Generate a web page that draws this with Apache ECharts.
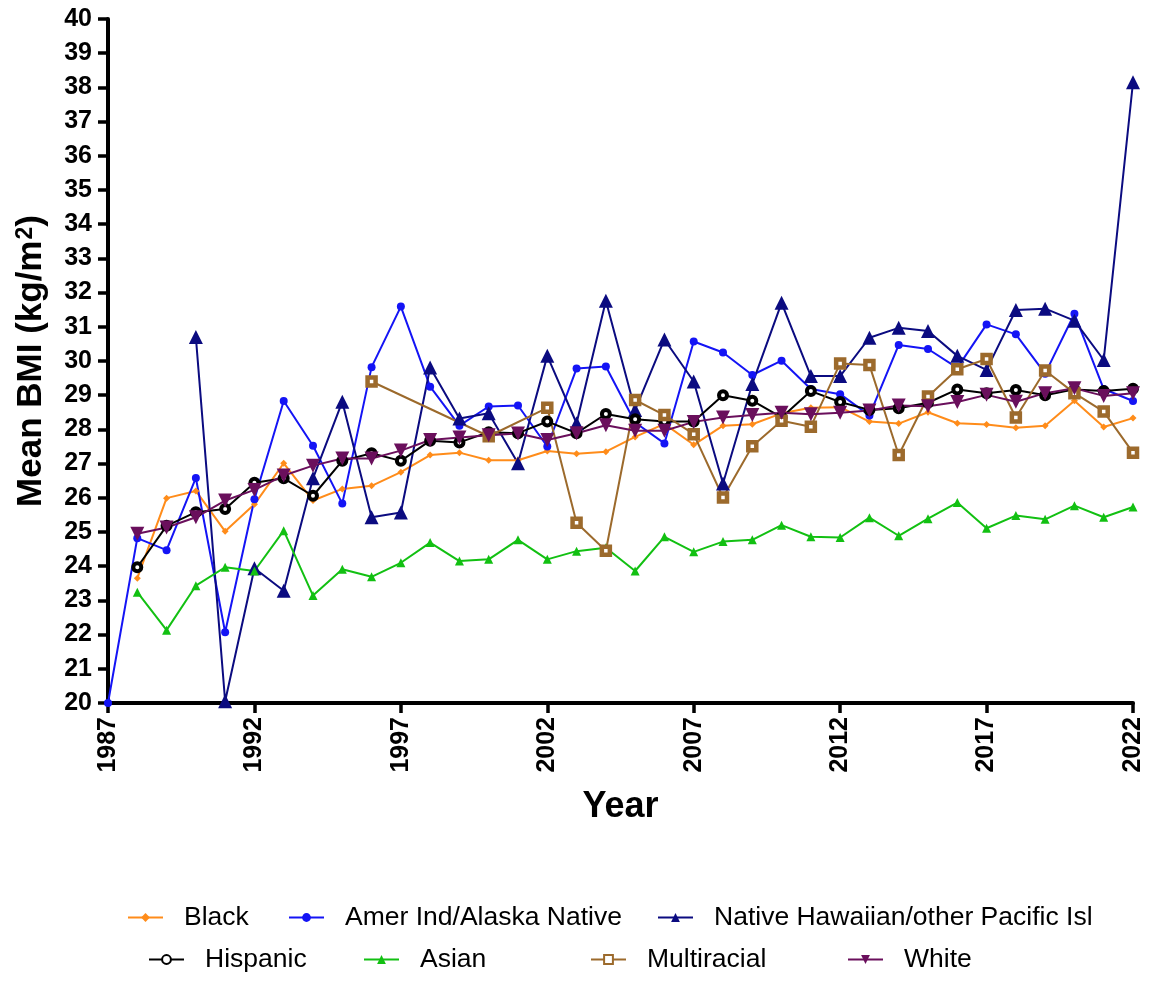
<!DOCTYPE html>
<html>
<head>
<meta charset="utf-8">
<script src="https://cdn.jsdelivr.net/npm/echarts@6/dist/echarts.min.js"></script>
<style>html,body{margin:0;padding:0;background:#fff;}#c{width:1150px;height:981px;}</style>
</head>
<body>
<div id="c"></div>
<script>
const years = [1987,1988,1989,1990,1991,1992,1993,1994,1995,1996,1997,1998,1999,2000,2001,2002,2003,2004,2005,2006,2007,2008,2009,2010,2011,2012,2013,2014,2015,2016,2017,2018,2019,2020,2021,2022];
const xTicks = [1987,1992,1997,2002,2007,2012,2017,2022];
const black = [null,23.65,25.99,26.2,25.02,25.81,27.01,25.92,26.26,26.35,26.75,27.25,27.32,27.1,27.1,27.37,27.29,27.35,27.78,28.16,27.55,28.11,28.15,28.47,28.63,28.65,28.23,28.17,28.5,28.18,28.14,28.05,28.11,28.84,28.07,28.33];
const amerInd = [20.0,24.82,24.47,26.58,22.07,25.96,28.83,27.52,25.83,29.82,31.59,29.25,28.11,28.67,28.7,27.5,29.78,29.84,28.2,27.59,30.57,30.25,29.59,30.01,29.18,29.03,28.41,30.47,30.35,29.8,31.07,30.78,29.63,31.38,29.18,28.83];
const nativeHaw = [null,null,null,30.7,20.05,23.94,23.28,26.57,28.81,25.43,25.57,29.81,28.32,28.47,27.01,30.15,28.18,31.76,28.57,30.63,29.4,26.42,29.33,31.7,29.56,29.56,30.68,30.97,30.88,30.15,29.74,31.49,31.53,31.18,30.03,38.15];
const hispanic = [null,23.97,25.18,25.58,25.67,26.44,26.57,26.06,27.08,27.3,27.08,27.67,27.62,27.92,27.89,28.23,27.89,28.45,28.3,28.23,28.23,29.0,28.84,28.35,29.12,28.8,28.57,28.62,28.78,29.17,29.06,29.15,29.0,29.17,29.12,29.19];
const asian = [null,23.24,22.13,23.43,23.97,23.86,25.04,23.14,23.91,23.69,24.1,24.69,24.15,24.2,24.77,24.2,24.44,24.54,23.86,24.86,24.42,24.72,24.77,25.2,24.86,24.84,25.42,24.89,25.39,25.86,25.11,25.48,25.37,25.77,25.43,25.73];
const multiracial = [null,null,null,null,null,null,null,null,null,29.4,null,null,null,27.8,null,28.63,25.27,24.45,28.86,28.42,27.86,26.01,27.51,28.25,28.08,29.93,29.88,27.25,28.96,29.76,30.06,28.35,29.72,29.06,28.52,27.32];
const white = [null,24.95,25.13,25.43,25.92,26.23,26.65,26.94,27.15,27.15,27.38,27.69,27.76,27.83,27.88,27.69,27.89,28.12,27.96,27.96,28.22,28.35,28.42,28.49,28.44,28.49,28.55,28.7,28.68,28.8,29.01,28.81,29.06,29.2,28.98,29.06];

const seriesNames = ['Black','Amer Ind/Alaska Native','Native Hawaiian/other Pacific Isl','Hispanic','Asian','Multiracial','White'];
const seriesValues = [black, amerInd, nativeHaw, hispanic, asian, multiracial, white];
const styles = [
  {color:'#FF8C1A', symbol:'diamond', size:7, fill:'#FF8C1A', bw:0},
  {color:'#1414F5', symbol:'circle', size:8, fill:'#1414F5', bw:0},
  {color:'#0B0B80', symbol:'triangle', size:14, fill:'#0B0B80', bw:0},
  {color:'#000000', symbol:'circle', size:8, fill:'#ffffff', bw:4},
  {color:'#12C012', symbol:'triangle', size:9, fill:'#12C012', bw:0},
  {color:'#9C6A2C', symbol:'rect', size:8, fill:'#ffffff', bw:4.5},
  {color:'#6A0F5C', symbol:'triangle', size:14, fill:'#6A0F5C', bw:0, rotate:180}
];

const series = seriesNames.map((n,i)=>({
  name:n, type:'line',
  data: years.map((y,k)=>[y, seriesValues[i][k]]),
  connectNulls:true,
  symbol: styles[i].symbol,
  symbolSize: styles[i].size,
  symbolRotate: styles[i].rotate || 0,
  showAllSymbol:true,
  lineStyle:{color:styles[i].color, width:2},
  itemStyle:{color:styles[i].fill, borderColor:styles[i].color, borderWidth:styles[i].bw},
  emphasis:{disabled:true},
  animation:false
}));

const legendPos = [[122,899],[283,899],[652,899],[143,941],[358,941],[585,941],[842,941]];
const legends = seriesNames.map((n,i)=>({
  data:[n], left:legendPos[i][0], top:legendPos[i][1],
  itemWidth:35, itemHeight:11, selectedMode:false,
  textStyle:{fontSize:26.5, color:'#000', fontFamily:'Liberation Sans', padding:[0,0,0,16]}
}));

const chart = echarts.init(document.getElementById('c'), null, {renderer:'canvas'});
chart.setOption({
  animation:false,
  backgroundColor:'#fff',
  grid:{left:108, right:17, top:19, bottom:278, containLabel:false},
  legend: legends,
  xAxis:{
    type:'value', min:1987, max:2022, interval:5,
    name:'Year', nameLocation:'middle', nameGap:86,
    nameTextStyle:{fontSize:36, fontWeight:'bold', color:'#000', fontFamily:'Liberation Sans'},
    axisLine:{show:true, lineStyle:{color:'#000', width:4}},
    axisTick:{show:true, length:10, lineStyle:{color:'#000', width:3.5}},
    axisLabel:{rotate:90, margin:14, fontSize:25, fontWeight:'bold', color:'#000', fontFamily:'Liberation Sans',
      formatter:v=> xTicks.includes(v) ? String(v) : ''},
    splitLine:{show:false}
  },
  yAxis:{
    type:'value', min:20, max:40, interval:1,
    name:'Mean BMI (kg/m{sup|2})', nameLocation:'middle', nameGap:55,
    nameTextStyle:{fontSize:35, fontWeight:'bold', color:'#000', fontFamily:'Liberation Sans',
      rich:{sup:{fontSize:23, fontWeight:'bold', color:'#000', fontFamily:'Liberation Sans', verticalAlign:'top', lineHeight:22, padding:[0,0,16,1]}}},
    axisLine:{show:true, lineStyle:{color:'#000', width:4}},
    axisTick:{show:true, length:10, lineStyle:{color:'#000', width:3.5}},
    axisLabel:{margin:16, fontSize:25, fontWeight:'bold', color:'#000', fontFamily:'Liberation Sans'},
    splitLine:{show:false}
  },
  series: series
});
</script>
</body>
</html>
